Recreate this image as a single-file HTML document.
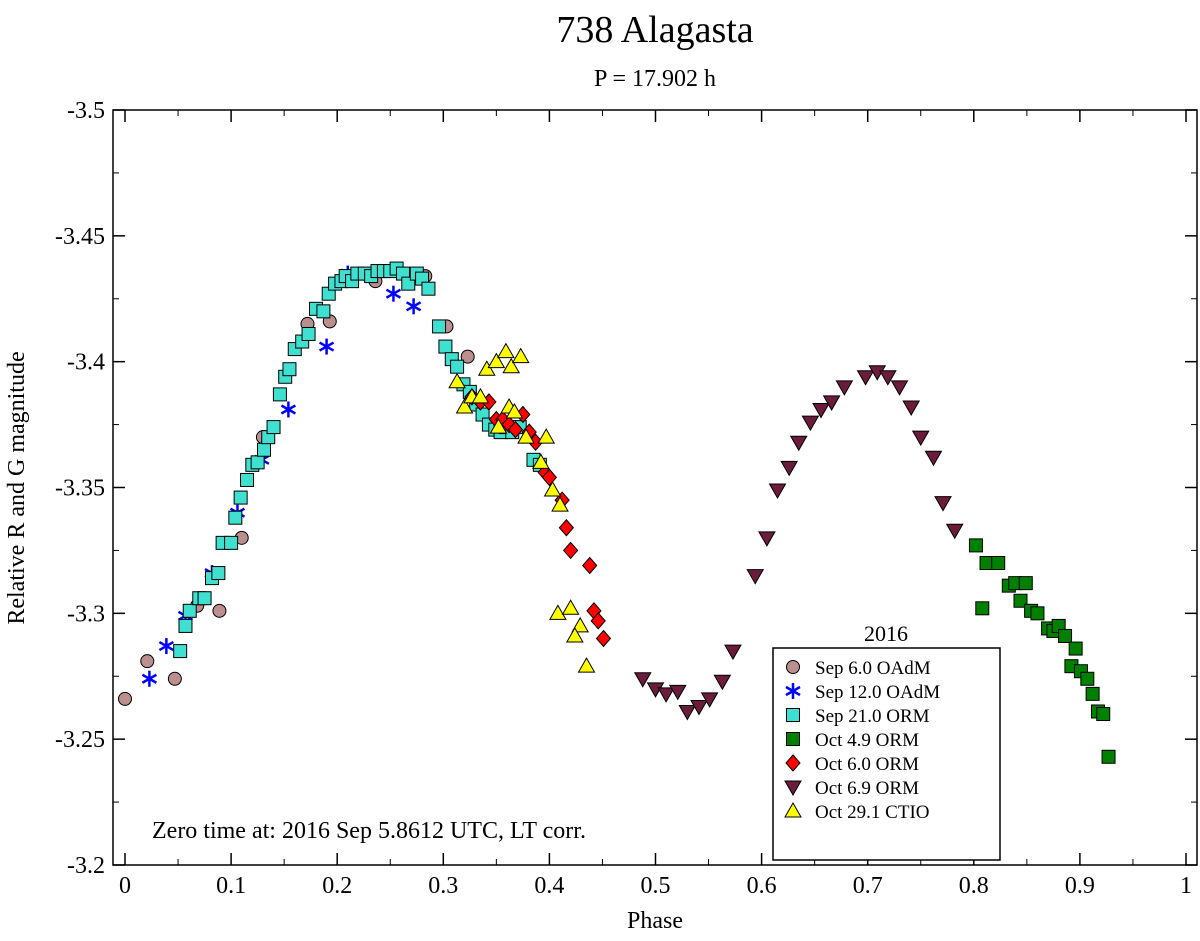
<!DOCTYPE html>
<html><head><meta charset="utf-8"><style>
body{margin:0;background:#fff;}
svg text{font-family:"Liberation Serif",serif;}
</style></head><body>
<svg id="chart" width="1200" height="936" xmlns="http://www.w3.org/2000/svg">
<text x="655" y="42" font-size="38" text-anchor="middle">738 Alagasta</text>
<text x="655" y="86" font-size="24" text-anchor="middle">P = 17.902 h</text>
<text transform="translate(24,488) rotate(-90)" font-size="24" text-anchor="middle">Relative R and G magnitude</text>
<text x="655" y="928" font-size="24" text-anchor="middle">Phase</text>
<g id="axes"></g>
<g id="marks"></g>
<text x="152" y="838" font-size="24">Zero time at: 2016 Sep 5.8612 UTC, LT corr.</text>
<g id="legend"></g>
</svg>
<script>
const xTicks=[0,0.1,0.2,0.3,0.4,0.5,0.6,0.7,0.8,0.9,1];
const xTickLabels=["0","0.1","0.2","0.3","0.4","0.5","0.6","0.7","0.8","0.9","1"];
const yTicks=[-3.5,-3.45,-3.4,-3.35,-3.3,-3.25,-3.2];
const yTickLabels=["-3.5","-3.45","-3.4","-3.35","-3.3","-3.25","-3.2"];
const sep6Phase=[0,0.021,0.047,0.068,0.089,0.110,0.130,0.172,0.193,0.236,0.283,0.303,0.323];
const sep6Mag=[-3.266,-3.281,-3.274,-3.303,-3.301,-3.330,-3.370,-3.415,-3.416,-3.432,-3.434,-3.414,-3.402];
const sep12Phase=[0.023,0.039,0.057,0.082,0.106,0.129,0.154,0.190,0.210,0.253,0.272];
const sep12Mag=[-3.274,-3.287,-3.299,-3.316,-3.340,-3.361,-3.381,-3.406,-3.435,-3.427,-3.422];
const sep21Phase=[0.052,0.057,0.061,0.070,0.075,0.082,0.088,0.092,0.100,0.104,0.109,0.115,0.120,0.125,0.131,0.135,0.140,0.146,0.151,0.155,0.160,0.167,0.173,0.180,0.187,0.192,0.198,0.204,0.208,0.214,0.219,0.226,0.232,0.238,0.244,0.250,0.256,0.262,0.267,0.275,0.280,0.286,0.296,0.302,0.308,0.313,0.319,0.325,0.331,0.337,0.343,0.349,0.354,0.359,0.365,0.372,0.385,0.391];
const sep21Mag=[-3.285,-3.295,-3.301,-3.306,-3.306,-3.314,-3.316,-3.328,-3.328,-3.338,-3.346,-3.353,-3.359,-3.360,-3.365,-3.370,-3.374,-3.387,-3.394,-3.397,-3.405,-3.408,-3.411,-3.421,-3.420,-3.427,-3.431,-3.432,-3.434,-3.432,-3.435,-3.435,-3.434,-3.436,-3.436,-3.436,-3.437,-3.435,-3.431,-3.435,-3.433,-3.429,-3.414,-3.406,-3.401,-3.398,-3.391,-3.388,-3.383,-3.379,-3.375,-3.373,-3.372,-3.374,-3.372,-3.374,-3.361,-3.359];
const oct4Phase=[0.802,0.812,0.823,0.833,0.839,0.849,0.808,0.844,0.854,0.860,0.870,0.875,0.880,0.886,0.896,0.892,0.901,0.907,0.912,0.917,0.922,0.927];
const oct4Mag=[-3.327,-3.320,-3.320,-3.311,-3.312,-3.312,-3.302,-3.305,-3.301,-3.300,-3.294,-3.293,-3.295,-3.291,-3.286,-3.279,-3.277,-3.274,-3.268,-3.261,-3.260,-3.243];
const oct6Phase=[0.327,0.335,0.343,0.350,0.356,0.362,0.368,0.375,0.381,0.387,0.396,0.400,0.412,0.416,0.420,0.438,0.442,0.446,0.451];
const oct6Mag=[-3.386,-3.384,-3.384,-3.377,-3.377,-3.375,-3.373,-3.379,-3.372,-3.368,-3.356,-3.354,-3.345,-3.334,-3.325,-3.319,-3.301,-3.297,-3.290];
const oct69Phase=[0.488,0.500,0.510,0.521,0.530,0.541,0.551,0.563,0.573,0.594,0.605,0.615,0.626,0.635,0.646,0.656,0.666,0.678,0.698,0.709,0.719,0.730,0.741,0.750,0.762,0.771,0.782];
const oct69Mag=[-3.274,-3.270,-3.268,-3.269,-3.261,-3.263,-3.266,-3.273,-3.285,-3.315,-3.330,-3.349,-3.358,-3.368,-3.376,-3.381,-3.384,-3.390,-3.394,-3.396,-3.394,-3.390,-3.382,-3.370,-3.362,-3.344,-3.333];
const oct29Phase=[0.313,0.320,0.327,0.335,0.341,0.350,0.359,0.364,0.373,0.362,0.367,0.352,0.378,0.397,0.392,0.403,0.410,0.408,0.420,0.429,0.424,0.435];
const oct29Mag=[-3.392,-3.382,-3.386,-3.386,-3.397,-3.400,-3.404,-3.398,-3.402,-3.382,-3.380,-3.374,-3.370,-3.370,-3.360,-3.349,-3.343,-3.300,-3.302,-3.295,-3.291,-3.279];
const seriesNames=["Sep 6.0 OAdM","Sep 12.0 OAdM","Sep 21.0 ORM","Oct 4.9 ORM","Oct 6.0 ORM","Oct 6.9 ORM","Oct 29.1 CTIO"];

const L=113,R=1197,T=110,B=865;
const xs=v=>125+v*1061;
const ys=v=>T+(v+3.5)/0.3*(B-T);
const NS="http://www.w3.org/2000/svg";
function mk(tag,attrs,parent){const e=document.createElementNS(NS,tag);for(const k in attrs)e.setAttribute(k,attrs[k]);parent.appendChild(e);return e;}
const axes=document.getElementById('axes');
const frame=mk('rect',{x:L,y:T,width:R-L,height:B-T,fill:'none',stroke:'#000','stroke-width':1.5},axes);


xTicks.forEach((t,i)=>{
  const x=xs(t);
  mk('line',{x1:x,y1:B,x2:x,y2:B-12,stroke:'#000','stroke-width':1.5},axes);
  mk('line',{x1:x,y1:T,x2:x,y2:T+12,stroke:'#000','stroke-width':1.5},axes);
  if(i<xTicks.length-1){const m=xs(t+0.05);
    mk('line',{x1:m,y1:B,x2:m,y2:B-6,stroke:'#000'},axes);
    mk('line',{x1:m,y1:T,x2:m,y2:T+6,stroke:'#000'},axes);}
  const tx=mk('text',{x:x,y:B+28,'font-size':24,'text-anchor':'middle'},axes);
  tx.textContent=xTickLabels[i];
  
  
});
yTicks.forEach((t,i)=>{
  const y=ys(t);
  mk('line',{x1:L,y1:y,x2:L+12,y2:y,stroke:'#000','stroke-width':1.5},axes);
  mk('line',{x1:R,y1:y,x2:R-12,y2:y,stroke:'#000','stroke-width':1.5},axes);
  if(i<yTicks.length-1){const m=ys(t+0.025);
    mk('line',{x1:L,y1:m,x2:L+6,y2:m,stroke:'#000'},axes);
    mk('line',{x1:R,y1:m,x2:R-6,y2:m,stroke:'#000'},axes);}
  const tx=mk('text',{x:L-8,y:y+8,'font-size':24,'text-anchor':'end'},axes);
  tx.textContent=yTickLabels[i];
  
  
});
function marker(type,cx,cy,parent){
  let e;
  if(type==='circle')e=mk('circle',{cx:cx,cy:cy,r:6.5,fill:'#bc8f8f',stroke:'#000','stroke-width':1},parent);
  else if(type==='star'){e=mk('g',{stroke:'#0000ff','stroke-width':2.5},parent);
    [[0,-8],[7,-4],[7,4]].forEach(([dx,dy])=>mk('line',{x1:cx-dx,y1:cy-dy,x2:cx+dx,y2:cy+dy},e));}
  else if(type==='sq-cyan')e=mk('rect',{x:cx-6.5,y:cy-6.5,width:13,height:13,fill:'#40e0d0',stroke:'#000','stroke-width':1},parent);
  else if(type==='sq-green')e=mk('rect',{x:cx-6.5,y:cy-6.5,width:13,height:13,fill:'#008000',stroke:'#000','stroke-width':1},parent);
  else if(type==='diamond')e=mk('polygon',{points:`${cx},${cy-8} ${cx+7},${cy} ${cx},${cy+8} ${cx-7},${cy}`,fill:'#ff0000',stroke:'#000','stroke-width':1},parent);
  else if(type==='down')e=mk('polygon',{points:`${cx-8},${cy-6} ${cx+8},${cy-6} ${cx},${cy+8}`,fill:'#6b1b3b',stroke:'#000','stroke-width':1},parent);
  else e=mk('polygon',{points:`${cx-8},${cy+6} ${cx+8},${cy+6} ${cx},${cy-8}`,fill:'#ffff00',stroke:'#000','stroke-width':1},parent);
  return e;
}
const series=[[sep6Phase,sep6Mag,'circle'],[sep12Phase,sep12Mag,'star'],[sep21Phase,sep21Mag,'sq-cyan'],[oct4Phase,oct4Mag,'sq-green'],[oct6Phase,oct6Mag,'diamond'],[oct69Phase,oct69Mag,'down'],[oct29Phase,oct29Mag,'up']];
const marks=document.getElementById('marks');
series.forEach(([px,py,type])=>{
  px.forEach((p,i)=>{
    const e=marker(type,xs(p),ys(py[i]),marks);
    
    
  });
});
const lg=document.getElementById('legend');
const lt=mk('text',{x:886,y:641,'font-size':22,'text-anchor':'middle'},lg);
lt.textContent='2016';


mk('rect',{x:773,y:648,width:227,height:212,fill:'#fff',stroke:'#000','stroke-width':1.5},lg);
seriesNames.forEach((n,i)=>{
  const y=667+i*24;
  const g=mk('g',{},lg);
  
  
  marker(series[i][2],793,y,g);
  const t=mk('text',{x:815,y:y+7,'font-size':19},g);
  t.textContent=n;
});
</script>
</body></html>
